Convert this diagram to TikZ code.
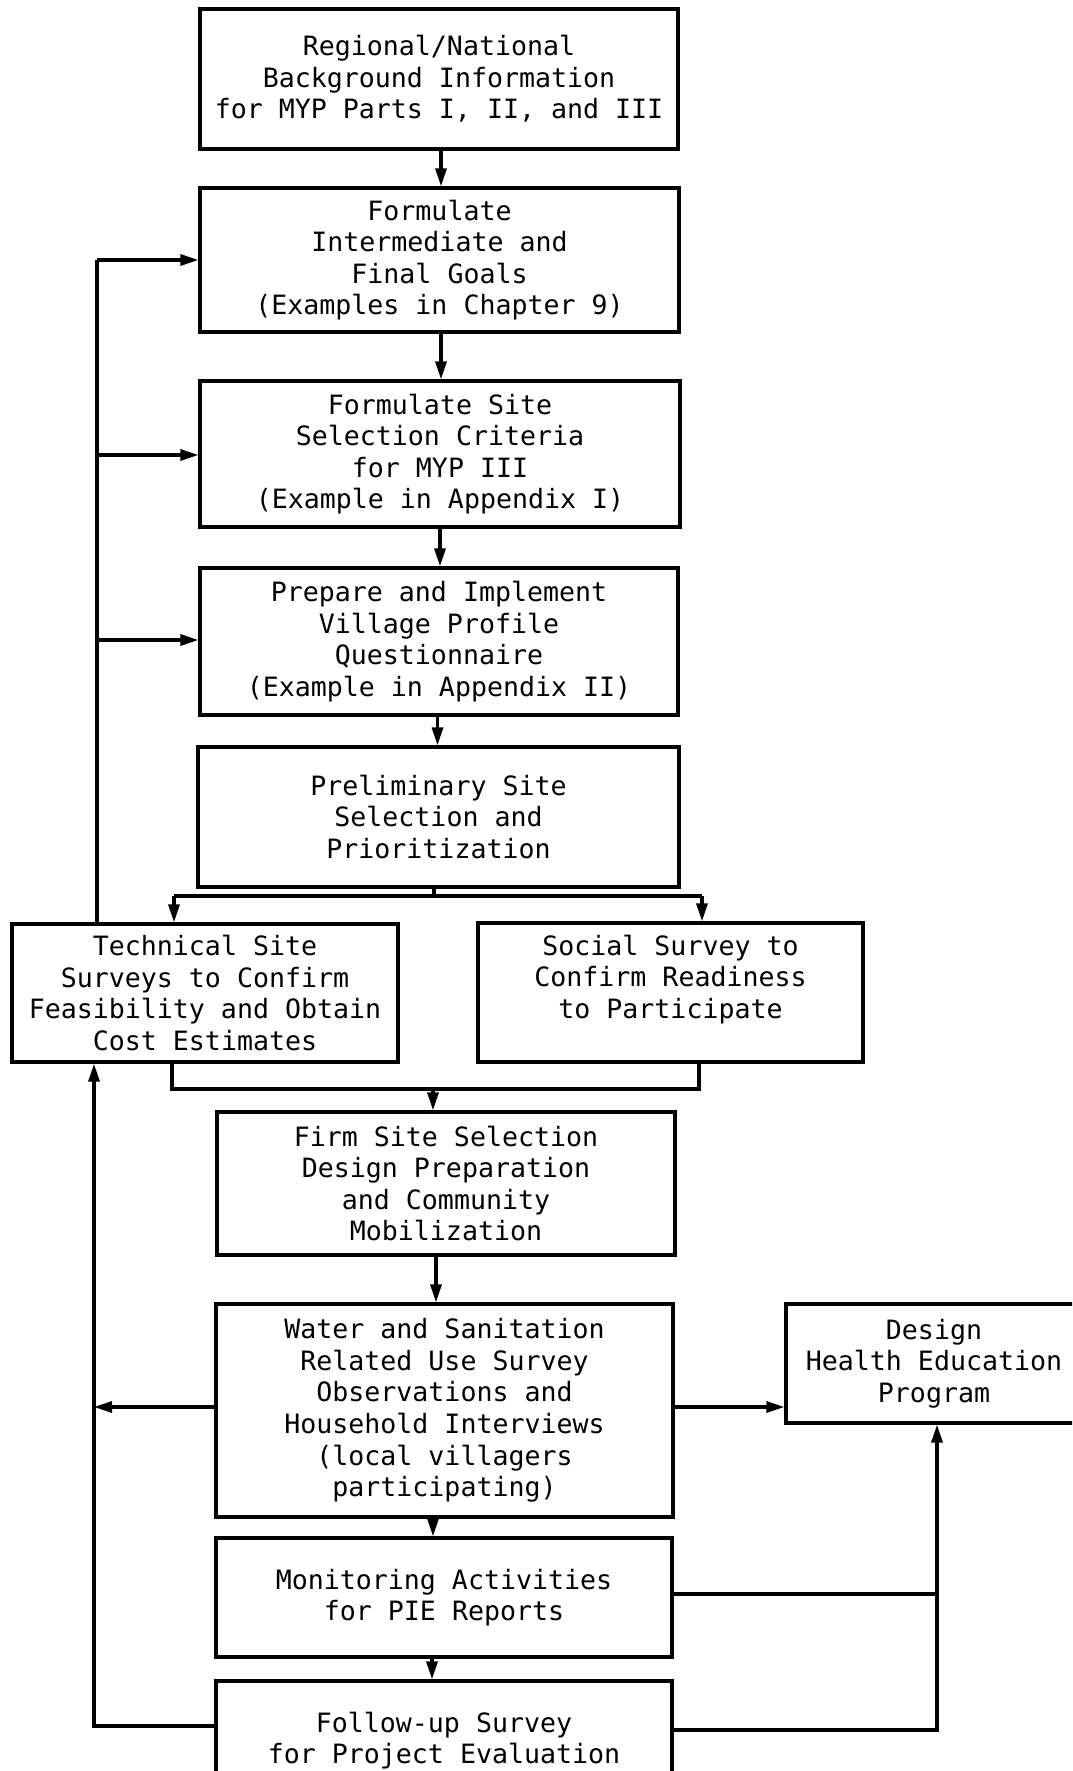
\documentclass[tikz,border=0pt]{standalone}
\usepackage{fontspec}
\newfontfamily\tw{DejaVu Sans Mono}
\usetikzlibrary{arrows.meta}
\begin{document}
\begin{tikzpicture}[x=0.5pt,y=-0.5pt,
  box/.style={draw, line width=1.6pt, rectangle, inner sep=0pt, align=center,
    font=\tw\fontsize{13.3pt}{15.8pt}\selectfont},
  ln/.style={line width=1.6pt},
  arr/.style={line width=1.6pt, -{Triangle[length=9pt,width=5.5pt]}}]
\useasboundingbox (0,0) rectangle (1072,1771);
\clip (0,0) rectangle (1072,1771);
\fill[white] (0,0) rectangle (1072,1771);

\node[box, minimum width=239pt, minimum height=70pt] (b1) at (439,79)
  {Regional/National\\Background Information\\for MYP Parts I, II, and III};
\node[box, minimum width=239.5pt, minimum height=72pt] (b2) at (439.5,260)
  {Formulate\\Intermediate and\\Final Goals\\(Examples in Chapter 9)};
\node[box, minimum width=240pt, minimum height=73pt] (b3) at (440,454)
  {Formulate Site\\Selection Criteria\\for MYP III\\(Example in Appendix I)};
\node[box, minimum width=239pt, minimum height=73.5pt] (b4) at (439,641.5)
  {Prepare and Implement\\Village Profile\\Questionnaire\\(Example in Appendix II)};
\node[box, minimum width=240.5pt, minimum height=70pt] (b5) at (438.5,817)
  {Preliminary Site\\Selection and\\Prioritization};
\node[box, minimum width=193pt, minimum height=69pt] (b6) at (205,993)
  {Technical Site\\Surveys to Confirm\\Feasibility and Obtain\\Cost Estimates};
\node[box, minimum width=192.5pt, minimum height=69.5pt] (b7) at (670.5,992.5)
  {Social Survey to\\Confirm Readiness\\to Participate\\\mbox{}};
\node[box, minimum width=229pt, minimum height=71.5pt] (b8) at (446,1183.5)
  {Firm Site Selection\\Design Preparation\\and Community\\Mobilization};
\node[box, minimum width=228.5pt, minimum height=106.5pt] (b9) at (444.5,1410.5)
  {Water and Sanitation\\Related Use Survey\\Observations and\\Household Interviews\\(local villagers\\participating)};
\node[box, minimum width=228pt, minimum height=59.5pt] (b10) at (444,1597.5)
  {Monitoring Activities\\for PIE Reports};
\node[box, minimum width=228pt, minimum height=59.5pt] (b11) at (444,1740.5)
  {Follow-up Survey\\for Project Evaluation};
\node[box, minimum width=148pt, minimum height=59.5pt] (b12) at (934,1363.5)
  {Design\\Health Education\\Program};

% main chain
\draw[arr] ([xshift=1pt]b1.south) -- ([xshift=1pt]b1.south |- b2.north);
\draw[arr] ([xshift=0.75pt]b2.south) -- ([xshift=0.75pt]b2.south |- b3.north);
\draw[arr] (b3.south) -- (b3.south |- b4.north);
\draw[arr] ([xshift=-0.75pt]b4.south) -- ([xshift=-0.75pt]b4.south |- b5.north);

% branch
\coordinate (bl) at (174,896);
\coordinate (bc) at (434,896);
\coordinate (bR) at (702,896);
\draw[ln] (bc |- b5.south) -- (bc);
\draw[ln] (bl) -- (bR);
\draw[arr] (bl) -- (bl |- b6.north);
\draw[arr] (bR) -- (bR |- b7.north);

% merge
\coordinate (ml) at (172,1089);
\coordinate (mc) at (433,1089);
\coordinate (mr) at (699,1089);
\draw[ln] (ml |- b6.south) -- (ml) -- (mr) -- (mr |- b7.south);
\draw[arr] (mc) -- (mc |- b8.north);

\draw[arr] ([xshift=-5pt]b8.south) -- ([xshift=-5pt]b8.south |- b9.north);
\draw[arr] ([xshift=-5.75pt]b9.south) -- ([xshift=-5.75pt]b9.south |- b10.north);
\draw[arr] ([xshift=-6pt]b10.south) -- ([xshift=-6pt]b10.south |- b11.north);

% left feedback 1
\coordinate (l1) at (97,260);
\draw[ln] (l1 |- b6.north) -- (l1);
\draw[arr] (l1) -- (l1 -| b2.west);
\draw[arr] (l1 |- 0,455) -- (b3.west |- 0,455);
\draw[arr] (l1 |- 0,640) -- (b4.west |- 0,640);

% left feedback 2
\coordinate (l2) at (94,0);
\draw[arr] ([yshift=7.25pt]b11.west) -| (b6.south -| l2);
\draw[arr] ([yshift=1.75pt]b9.west) -- ([yshift=1.75pt]b9.west -| l2);

% right side
\coordinate (r) at (937,0);
\draw[arr] ([yshift=1.75pt]b9.east) -- ([yshift=1.75pt]b9.east -| b12.west);
\draw[ln] ([yshift=1.75pt]b10.east) -- ([yshift=1.75pt]b10.east -| r);
\draw[arr] ([yshift=5.25pt]b11.east) -| (r |- b12.south);
\end{tikzpicture}
\end{document}
